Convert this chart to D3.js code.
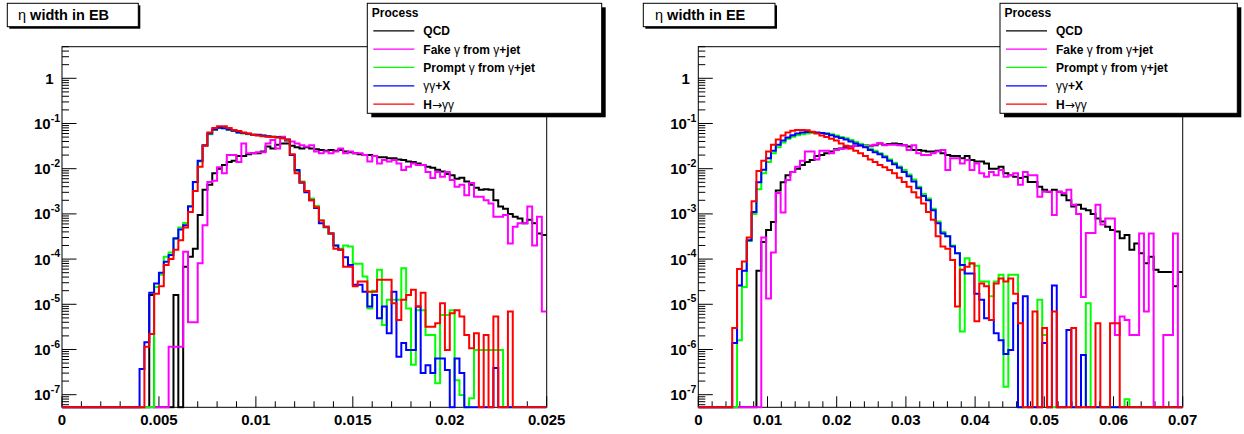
<!DOCTYPE html>
<html><head><meta charset="utf-8">
<script src="https://cdn.jsdelivr.net/npm/d3@7"></script>
<style>
body{margin:0;background:#fff}
svg{display:block}
text{font-family:"Liberation Sans",Arial,Helvetica,sans-serif;font-weight:bold;fill:#000}
</style>
</head><body><svg id="c" width="1244" height="434"></svg>
<script>
// ---------------- data ----------------
const processNames = ["QCD", "Fake γ from γ+jet", "Prompt γ from γ+jet", "γγ+X", "H→γγ"];
const processColors = ["#000000", "#ff00ff", "#00ff00", "#0000ff", "#ff0000"];
const panelTitles = ["η width in EB", "η width in EE"];
const legendHeader = "Process";
const ebRange = [0, 0.025];
const eeRange = [0, 0.07];
const ebXTickLabels = ["0", "0.005", "0.01", "0.015", "0.02", "0.025"];
const eeXTickLabels = ["0", "0.01", "0.02", "0.03", "0.04", "0.05", "0.06", "0.07"];
const yDecades = [-7, -6, -5, -4, -3, -2, -1, 0];
const yRange = [5.26e-8, 5.0];

// EB histograms (100 bins, 0..0.025)
const ebQCD = [0,0,0,0,0,0,0,0,0,0, 0,0,0,0,0,0,0,0,1.6e-5,0,
 0,0,0,1.6e-5,0,6.8e-5,1.12e-4,1.7e-4,9.5e-4,3.4e-3,
 4.4e-3,7.9e-3,1.0e-2,1.2e-2,1.4e-2,1.5e-2,1.9e-2,1.9e-2,2.1e-2,2.2e-2,
 2.2e-2,2.4e-2,3.1e-2,2.8e-2,3.4e-2,3.6e-2,3.6e-2,3.2e-2,3.0e-2,2.8e-2,
 3.0e-2,2.8e-2,2.7e-2,2.6e-2,2.5e-2,2.6e-2,2.5e-2,2.6e-2,2.4e-2,2.3e-2,
 2.2e-2,2.1e-2,2.0e-2,2.0e-2,1.9e-2,1.8e-2,1.8e-2,1.7e-2,1.7e-2,1.6e-2,
 1.55e-2,1.45e-2,1.4e-2,1.3e-2,1.2e-2,1.1e-2,1.05e-2,9.5e-3,8.7e-3,7.6e-3,
 7.2e-3,6.0e-3,6.3e-3,5.2e-3,4.4e-3,3.8e-3,3.4e-3,3.5e-3,3.4e-3,2.0e-3,
 1.45e-3,1.3e-3,1.0e-3,8.7e-4,7.9e-4,6.2e-4,7.4e-4,6.2e-4,3.7e-4,3.4e-4];
const ebFake = [0,0,0,0,0,0,0,0,0,0, 0,0,0,0,0,0,0,0,0,0,
 0,0,1.15e-6,1.15e-6,1.15e-6,1.45e-4,4.0e-6,4.0e-6,8.1e-5,5.6e-4,
 5.1e-3,5.4e-3,1.07e-2,7.9e-3,2.0e-2,2.0e-2,1.4e-2,3.6e-2,2.2e-2,2.2e-2,
 2.3e-2,2.3e-2,3.6e-2,4.3e-2,2.8e-2,5.1e-2,4.0e-2,4.0e-2,3.6e-2,3.3e-2,
 3.1e-2,3.3e-2,2.4e-2,2.2e-2,2.4e-2,2.2e-2,2.4e-2,2.8e-2,2.2e-2,2.4e-2,
 2.2e-2,2.2e-2,2.0e-2,1.45e-2,1.9e-2,1.3e-2,1.55e-2,1.45e-2,1.55e-2,1.3e-2,
 9.3e-3,1.1e-2,1.3e-2,1.2e-2,1.2e-2,8.5e-3,6.2e-3,8.5e-3,6.6e-3,8.5e-3,
 5.6e-3,4.0e-3,4.4e-3,2.6e-3,4.8e-3,2.4e-3,2.4e-3,2.0e-3,1.7e-3,8.7e-4,
 8.7e-4,9.5e-4,2.2e-4,5.2e-4,6.2e-4,6.2e-4,1.45e-3,2.0e-4,8.7e-4,6.9e-6];
const ebPrompt = [0,0,0,0,0,0,0,0,0,0, 0,0,0,0,0,0,0,0,0,2.4e-5,
 4.5e-5,1.12e-4,1.4e-4,2.8e-4,5.0e-4,6.3e-4,1.5e-3,5.0e-3,1.45e-2,3.2e-2,
 5.8e-2,7.2e-2,7.9e-2,7.8e-2,7.2e-2,6.8e-2,6.3e-2,6.0e-2,5.8e-2,5.6e-2,
 5.5e-2,5.4e-2,5.2e-2,5.1e-2,4.9e-2,4.7e-2,4.2e-2,2.0e-2,8.9e-3,5.2e-3,
 3.2e-3,2.2e-3,1.5e-3,7.1e-4,5.0e-4,3.7e-4,2.0e-4,1.7e-4,2.0e-4,1.9e-4,
 7.9e-5,7.9e-5,4.1e-5,8.1e-6,2.0e-5,5.8e-5,3.5e-6,1.26e-5,1.26e-5,1.26e-5,
 6.3e-5,8.1e-6,4.6e-7,7.4e-6,7.4e-6,2.1e-6,2.1e-6,1.8e-7,5.8e-6,5.8e-6,
 7.4e-6,2.1e-7,9.8e-8,0,8.3e-8,9.8e-7,9.8e-7,9.8e-7,9.8e-7,9.8e-7,
 9.8e-7,0,0,0,0,0,0,0,0,0];
const ebDiphoton = [0,0,0,0,0,0,0,0,0,0, 0,0,0,0,0,0,3.7e-7,1.45e-6,1.8e-5,2.9e-5,
 5.0e-5,8.7e-5,1.23e-4,2.9e-4,4.5e-4,5.6e-4,1.45e-3,5.1e-3,1.5e-2,3.3e-2,
 6.0e-2,7.4e-2,8.1e-2,7.8e-2,7.4e-2,6.9e-2,6.3e-2,6.2e-2,5.9e-2,5.6e-2,
 5.6e-2,5.4e-2,5.2e-2,5.1e-2,5.0e-2,4.8e-2,4.4e-2,2.0e-2,9.3e-3,4.9e-3,
 3.0e-3,2.0e-3,1.35e-3,6.2e-4,5.2e-4,3.7e-4,2.0e-4,1.6e-4,1.1e-4,7.4e-5,
 2.7e-5,2.7e-5,1.9e-5,8.9e-6,1.6e-5,4.9e-6,8.9e-6,2.3e-6,1.9e-5,6.9e-7,
 1.4e-6,9.8e-7,9.8e-7,8.9e-6,3.0e-7,4.5e-7,3.0e-7,6.3e-7,6.3e-7,3.5e-7,
 0,6.3e-7,3.0e-7,0,0,0,0,0,0,3.9e-7,
 0,0,0,0,0,0,0,0,0,0];
const ebHiggs = [0,0,0,0,0,0,0,0,0,0, 0,0,0,0,0,0,0,1.15e-6,2.2e-6,1.7e-5,
 2.5e-5,7.4e-5,1.0e-4,1.6e-4,2.6e-4,5.0e-4,1.1e-3,3.2e-3,1.1e-2,3.2e-2,
 6.3e-2,7.9e-2,8.7e-2,8.7e-2,7.9e-2,7.2e-2,6.8e-2,6.3e-2,6.0e-2,5.6e-2,
 5.4e-2,5.2e-2,5.1e-2,5.0e-2,4.9e-2,4.7e-2,4.4e-2,2.1e-2,7.9e-3,5.0e-3,
 3.2e-3,2.0e-3,1.4e-3,7.1e-4,5.2e-4,3.7e-4,1.7e-4,1.6e-4,6.8e-5,6.8e-5,
 2.5e-5,3.2e-5,3.2e-5,1.9e-5,1.9e-5,3.5e-5,3.5e-5,3.5e-5,1.05e-5,4.5e-6,
 1.26e-5,1.6e-5,2.1e-5,8.9e-6,1.8e-5,3.2e-6,3.2e-6,3.8e-6,1.05e-5,9.8e-7,
 6.3e-6,7.4e-6,5.4e-6,2.1e-6,1.07e-6,2.3e-6,0,2.1e-6,0,5.4e-6,
 0,0,6.9e-6,0,0,0,0,0,0,0];

// EE histograms (100 bins, 0..0.07)
const eeQCD = [0,0,0,0,0,0,0,0,0,0, 0,0,5.5e-5,2.4e-4,4.4e-4,6.6e-4,3.3e-3,5.0e-3,7.2e-3,8.5e-3,
 1.0e-2,1.2e-2,1.4e-2,1.55e-2,1.9e-2,2.0e-2,2.2e-2,2.4e-2,2.7e-2,2.8e-2,
 3.0e-2,3.1e-2,3.2e-2,3.3e-2,3.2e-2,3.2e-2,3.3e-2,3.6e-2,3.4e-2,3.5e-2,
 3.6e-2,3.5e-2,3.3e-2,3.1e-2,2.6e-2,2.6e-2,2.5e-2,2.4e-2,2.4e-2,2.5e-2,
 2.2e-2,2.0e-2,1.9e-2,1.9e-2,1.7e-2,1.9e-2,1.55e-2,1.45e-2,1.45e-2,1.3e-2,
 1.0e-2,1.0e-2,1.1e-2,7.9e-3,7.2e-3,6.6e-3,6.2e-3,6.6e-3,5.1e-3,5.1e-3,
 4.0e-3,3.4e-3,3.1e-3,3.4e-3,3.1e-3,2.6e-3,2.0e-3,1.45e-3,1.6e-3,1.3e-3,
 1.2e-3,1.0e-3,7.9e-4,6.8e-4,5.2e-4,4.4e-4,4.1e-4,2.9e-4,3.4e-4,1.6e-4,
 2.2e-4,1.35e-4,8.1e-5,1.12e-4,5.8e-5,5.2e-5,5.2e-5,5.2e-5,2.5e-5,5.2e-5];
const eeFake = [0,0,0,0,0,0,0,0,0,0, 0,0,0,3.0e-4,1.35e-5,1.4e-4,2.9e-3,1.07e-3,5.6e-3,8.5e-3,
 1.1e-2,1.5e-2,2.4e-2,2.4e-2,1.6e-2,2.5e-2,2.5e-2,2.2e-2,2.6e-2,2.75e-2,
 2.8e-2,3.0e-2,3.2e-2,3.2e-2,3.3e-2,3.2e-2,3.4e-2,3.7e-2,3.3e-2,3.4e-2,
 3.4e-2,3.3e-2,3.3e-2,2.6e-2,3.3e-2,2.2e-2,2.0e-2,2.0e-2,2.2e-2,2.4e-2,
 2.6e-2,9.3e-3,1.7e-2,1.7e-2,1.3e-2,1.55e-2,9.3e-3,1.3e-2,7.9e-3,6.6e-3,
 8.5e-3,7.2e-3,9.3e-3,6.6e-3,7.2e-3,7.9e-3,4.4e-3,8.5e-3,7.2e-3,7.2e-3,
 2.4e-3,3.1e-3,3.1e-3,9.5e-4,3.1e-3,2.9e-3,3.4e-3,1.6e-3,1.0e-3,1.45e-5,
 3.8e-4,3.8e-4,1.6e-3,5.8e-4,7.9e-4,7.9e-4,2.1e-6,5.4e-6,4.5e-6,2.1e-6,
 2.1e-6,3.7e-4,6.9e-6,3.7e-4,0,0,2.1e-6,2.1e-6,3.7e-4,0];
const eePrompt = [0,0,0,0,0,0,0,0,1.6e-6,2.4e-5, 2.5e-4,1.0e-3,3.5e-3,7.9e-3,1.4e-2,2.2e-2,3.0e-2,3.8e-2,4.6e-2,5.1e-2,
 5.5e-2,5.8e-2,6.0e-2,6.2e-2,6.2e-2,6.2e-2,6.0e-2,5.8e-2,5.4e-2,5.0e-2,
 4.7e-2,4.3e-2,3.9e-2,3.5e-2,3.2e-2,2.8e-2,2.5e-2,2.2e-2,1.9e-2,1.6e-2,
 1.35e-2,1.12e-2,9.3e-3,7.4e-3,5.8e-3,4.0e-3,2.75e-3,2.2e-3,1.3e-3,6.8e-4,
 4.0e-4,3.2e-4,2.0e-4,1.35e-4,2.5e-6,1.05e-4,7.9e-5,7.1e-5,3.2e-5,3.2e-5,
 1.5e-5,3.2e-5,4.5e-5,1.5e-7,4.5e-5,4.5e-5,0,0,0,0,
 1.26e-5,2.1e-6,0,0,0,0,0,0,0,0,
 1.05e-5,0,0,0,0,0,0,0,7.9e-8,0,
 0,0,0,0,0,0,0,0,0,0];
const eeDiphoton = [0,0,0,0,0,0,0,1.4e-6,2.6e-5,5.5e-5, 2.6e-4,1.1e-3,5.0e-3,9.5e-3,1.7e-2,2.5e-2,3.4e-2,4.2e-2,4.9e-2,5.5e-2,
 6.0e-2,6.3e-2,6.5e-2,6.5e-2,6.3e-2,6.2e-2,5.9e-2,5.5e-2,5.1e-2,4.8e-2,
 4.4e-2,4.0e-2,3.6e-2,3.3e-2,3.0e-2,2.6e-2,2.3e-2,2.1e-2,1.8e-2,1.5e-2,
 1.26e-2,1.05e-2,8.5e-3,6.8e-3,5.2e-3,3.7e-3,2.5e-3,2.0e-3,1.2e-3,6.2e-4,
 3.7e-4,3.2e-4,1.9e-4,1.35e-4,7.4e-5,4.8e-5,4.8e-5,1.7e-5,1.26e-5,4.9e-6,
 4.5e-6,2.3e-6,1.6e-6,7.9e-7,9.8e-7,1.05e-5,0,1.5e-5,0,0,
 0,1.4e-6,0,2.6e-5,0,0,2.7e-6,0,0,7.6e-7,
 0,0,0,0,0,0,0,0,0,0,
 0,0,0,0,0,0,0,0,0,0];
const eeHiggs = [0,0,0,0,0,0,0,3.0e-6,6.0e-5,8.9e-5, 3.0e-4,1.9e-3,8.9e-3,1.5e-2,2.4e-2,3.4e-2,4.4e-2,5.4e-2,6.3e-2,6.9e-2,
 7.2e-2,7.2e-2,7.1e-2,6.6e-2,6.0e-2,5.4e-2,5.0e-2,4.6e-2,4.2e-2,3.6e-2,
 3.2e-2,2.8e-2,2.5e-2,2.2e-2,1.9e-2,1.6e-2,1.4e-2,1.2e-2,1.07e-2,9.3e-3,
 7.9e-3,6.3e-3,5.1e-3,4.0e-3,3.0e-3,2.3e-3,1.7e-3,1.1e-3,7.4e-4,3.2e-4,
 1.9e-4,1.7e-4,9.5e-5,8.9e-6,5.8e-5,6.8e-5,8.1e-5,4.2e-6,2.9e-5,2.5e-5,
 4.5e-6,2.9e-5,3.7e-5,3.2e-5,3.7e-5,1.7e-5,3.8e-6,0,0,6.9e-6,
 0,3.0e-6,0,6.9e-6,0,0,0,3.0e-6,0,0,
 0,0,3.8e-6,0,0,3.8e-6,3.8e-6,0,0,0,
 0,0,0,0,0,0,0,0,0,0];

const ebSeries = [ebQCD, ebFake, ebPrompt, ebDiphoton, ebHiggs];
const eeSeries = [eeQCD, eeFake, eePrompt, eeDiphoton, eeHiggs];

// ---------------- layout ----------------
const svg = d3.select("#c");
svg.append("rect").attr("width",1244).attr("height",434).attr("fill","#fff");

const frameTop = 46.7, frameBottom = 407.3;
const panels = [
  {x0:62, x1:546.7, range:ebRange, major:0.005, minor:0.001, labels:ebXTickLabels, series:ebSeries,
   title:panelTitles[0], titleBox:[7.3,3.3,131,23.4], titleX:18,
   legend:{x:367.3, y:3.3, w:234.4, h:110}},
  {x0:698.3, x1:1182.7, range:eeRange, major:0.01, minor:0.002, labels:eeXTickLabels, series:eeSeries,
   title:panelTitles[1], titleBox:[643.3,3.3,131.7,23.4], titleX:655,
   legend:{x:1000, y:3.3, w:237.3, h:110}}
];

function richText(sel, str){
  str.split(/([γη→])/).filter(s=>s.length).forEach(part=>{
    const t = sel.append("tspan").text(part);
    if (part === "→") t.style("font-weight","normal").style("font-family","'DejaVu Sans',sans-serif");
    else if (/[γη]/.test(part)) t.style("font-weight","normal");
  });
}

panels.forEach((p, pi) => {
  const x = d3.scaleLinear().domain(p.range).range([p.x0, p.x1]);
  const y = d3.scaleLog().domain(yRange).range([frameBottom, frameTop]);
  const g = svg.append("g");

  // frame
  g.append("rect").attr("x",p.x0).attr("y",frameTop).attr("width",p.x1-p.x0).attr("height",frameBottom-frameTop)
    .attr("fill","none").attr("stroke","#000").attr("stroke-width",1);

  // x ticks
  const nMinor = Math.round((p.range[1]-p.range[0])/p.minor);
  const ratio = Math.round(p.major/p.minor);
  d3.range(nMinor+1).forEach(i=>{
    const v = p.range[0] + i*p.minor;
    const isMajor = i % ratio === 0;
    const xx = x(v);
    g.append("line").attr("x1",xx).attr("x2",xx).attr("y1",frameBottom).attr("y2",frameBottom-(isMajor?11:6))
      .attr("stroke","#000").attr("stroke-width",1);
  });
  p.labels.forEach((lab,i)=>{
    g.append("text").attr("x",x(p.range[0]+i*p.major)).attr("y",425).attr("text-anchor","middle")
      .style("font-size","15px").text(lab);
  });

  // y ticks
  for (let k=-8;k<=0;k++){
    for (let m=1;m<=9;m++){
      const v = m*Math.pow(10,k);
      if (v < yRange[0] || v > yRange[1]) continue;
      const yy = y(v);
      g.append("line").attr("x1",p.x0).attr("x2",p.x0+(m===1?14.5:7)).attr("y1",yy).attr("y2",yy)
        .attr("stroke","#000").attr("stroke-width",1);
    }
  }
  yDecades.forEach(k=>{
    const yy = y(Math.pow(10,k));
    if (k===0){
      g.append("text").attr("x",p.x0-8.5).attr("y",yy+5.5).attr("text-anchor","end").style("font-size","15px").text("1");
    } else {
      const t = g.append("text").attr("x",p.x0-2).attr("y",yy+5.5).attr("text-anchor","end").style("font-size","15px");
      t.append("tspan").text("10");
      t.append("tspan").attr("dy",-7.3).style("font-size","10.5px").text(String(k));
    }
  });

  // histograms
  const clipId = "clip"+pi;
  svg.append("clipPath").attr("id",clipId).append("rect")
    .attr("x",p.x0).attr("y",frameTop).attr("width",p.x1-p.x0).attr("height",frameBottom-frameTop+1.5);
  const hg = g.append("g").attr("clip-path",`url(#${clipId})`);
  p.series.forEach((vals, si)=>{
    const w = (p.range[1]-p.range[0])/vals.length;
    const pts = [];
    vals.forEach((v,i)=>{
      const yy = v>0 ? Math.min(y(v), frameBottom) : frameBottom;
      pts.push([x(p.range[0]+i*w), yy],[x(p.range[0]+(i+1)*w), yy]);
    });
    hg.append("path").attr("d", d3.line()(pts)).attr("fill","none")
      .attr("stroke",processColors[si]).attr("stroke-width",2).attr("stroke-linejoin","miter");
  });

  // title box
  const tb = p.titleBox;
  g.append("rect").attr("x",tb[0]+2).attr("y",tb[1]+2).attr("width",tb[2]).attr("height",tb[3]).attr("fill","#000");
  g.append("rect").attr("x",tb[0]).attr("y",tb[1]).attr("width",tb[2]).attr("height",tb[3]).attr("fill","#fff")
    .attr("stroke","#000").attr("stroke-width",1);
  const tt = g.append("text").attr("x",p.titleX).attr("y",19.8).style("font-size","14.5px");
  richText(tt, p.title);

  // legend
  const L = p.legend;
  g.append("rect").attr("x",L.x+4).attr("y",L.y+4).attr("width",L.w).attr("height",L.h).attr("fill","#000");
  g.append("rect").attr("x",L.x).attr("y",L.y).attr("width",L.w).attr("height",L.h).attr("fill","#fff")
    .attr("stroke","#000").attr("stroke-width",1);
  const row = L.h/6;
  g.append("text").attr("x",L.x+4.5).attr("y",L.y+row*0.5+4.4).style("font-size","12px").text(legendHeader);
  processNames.forEach((name,i)=>{
    const cy = L.y + row*(i+1.5);
    g.append("line").attr("x1",L.x+6).attr("x2",L.x+47).attr("y1",cy).attr("y2",cy)
      .attr("stroke",processColors[i]).attr("stroke-width",1.3);
    const t = g.append("text").attr("x",L.x+56).attr("y",cy+4.4).style("font-size","12px");
    richText(t, name);
  });
});
</script>
</body></html>
